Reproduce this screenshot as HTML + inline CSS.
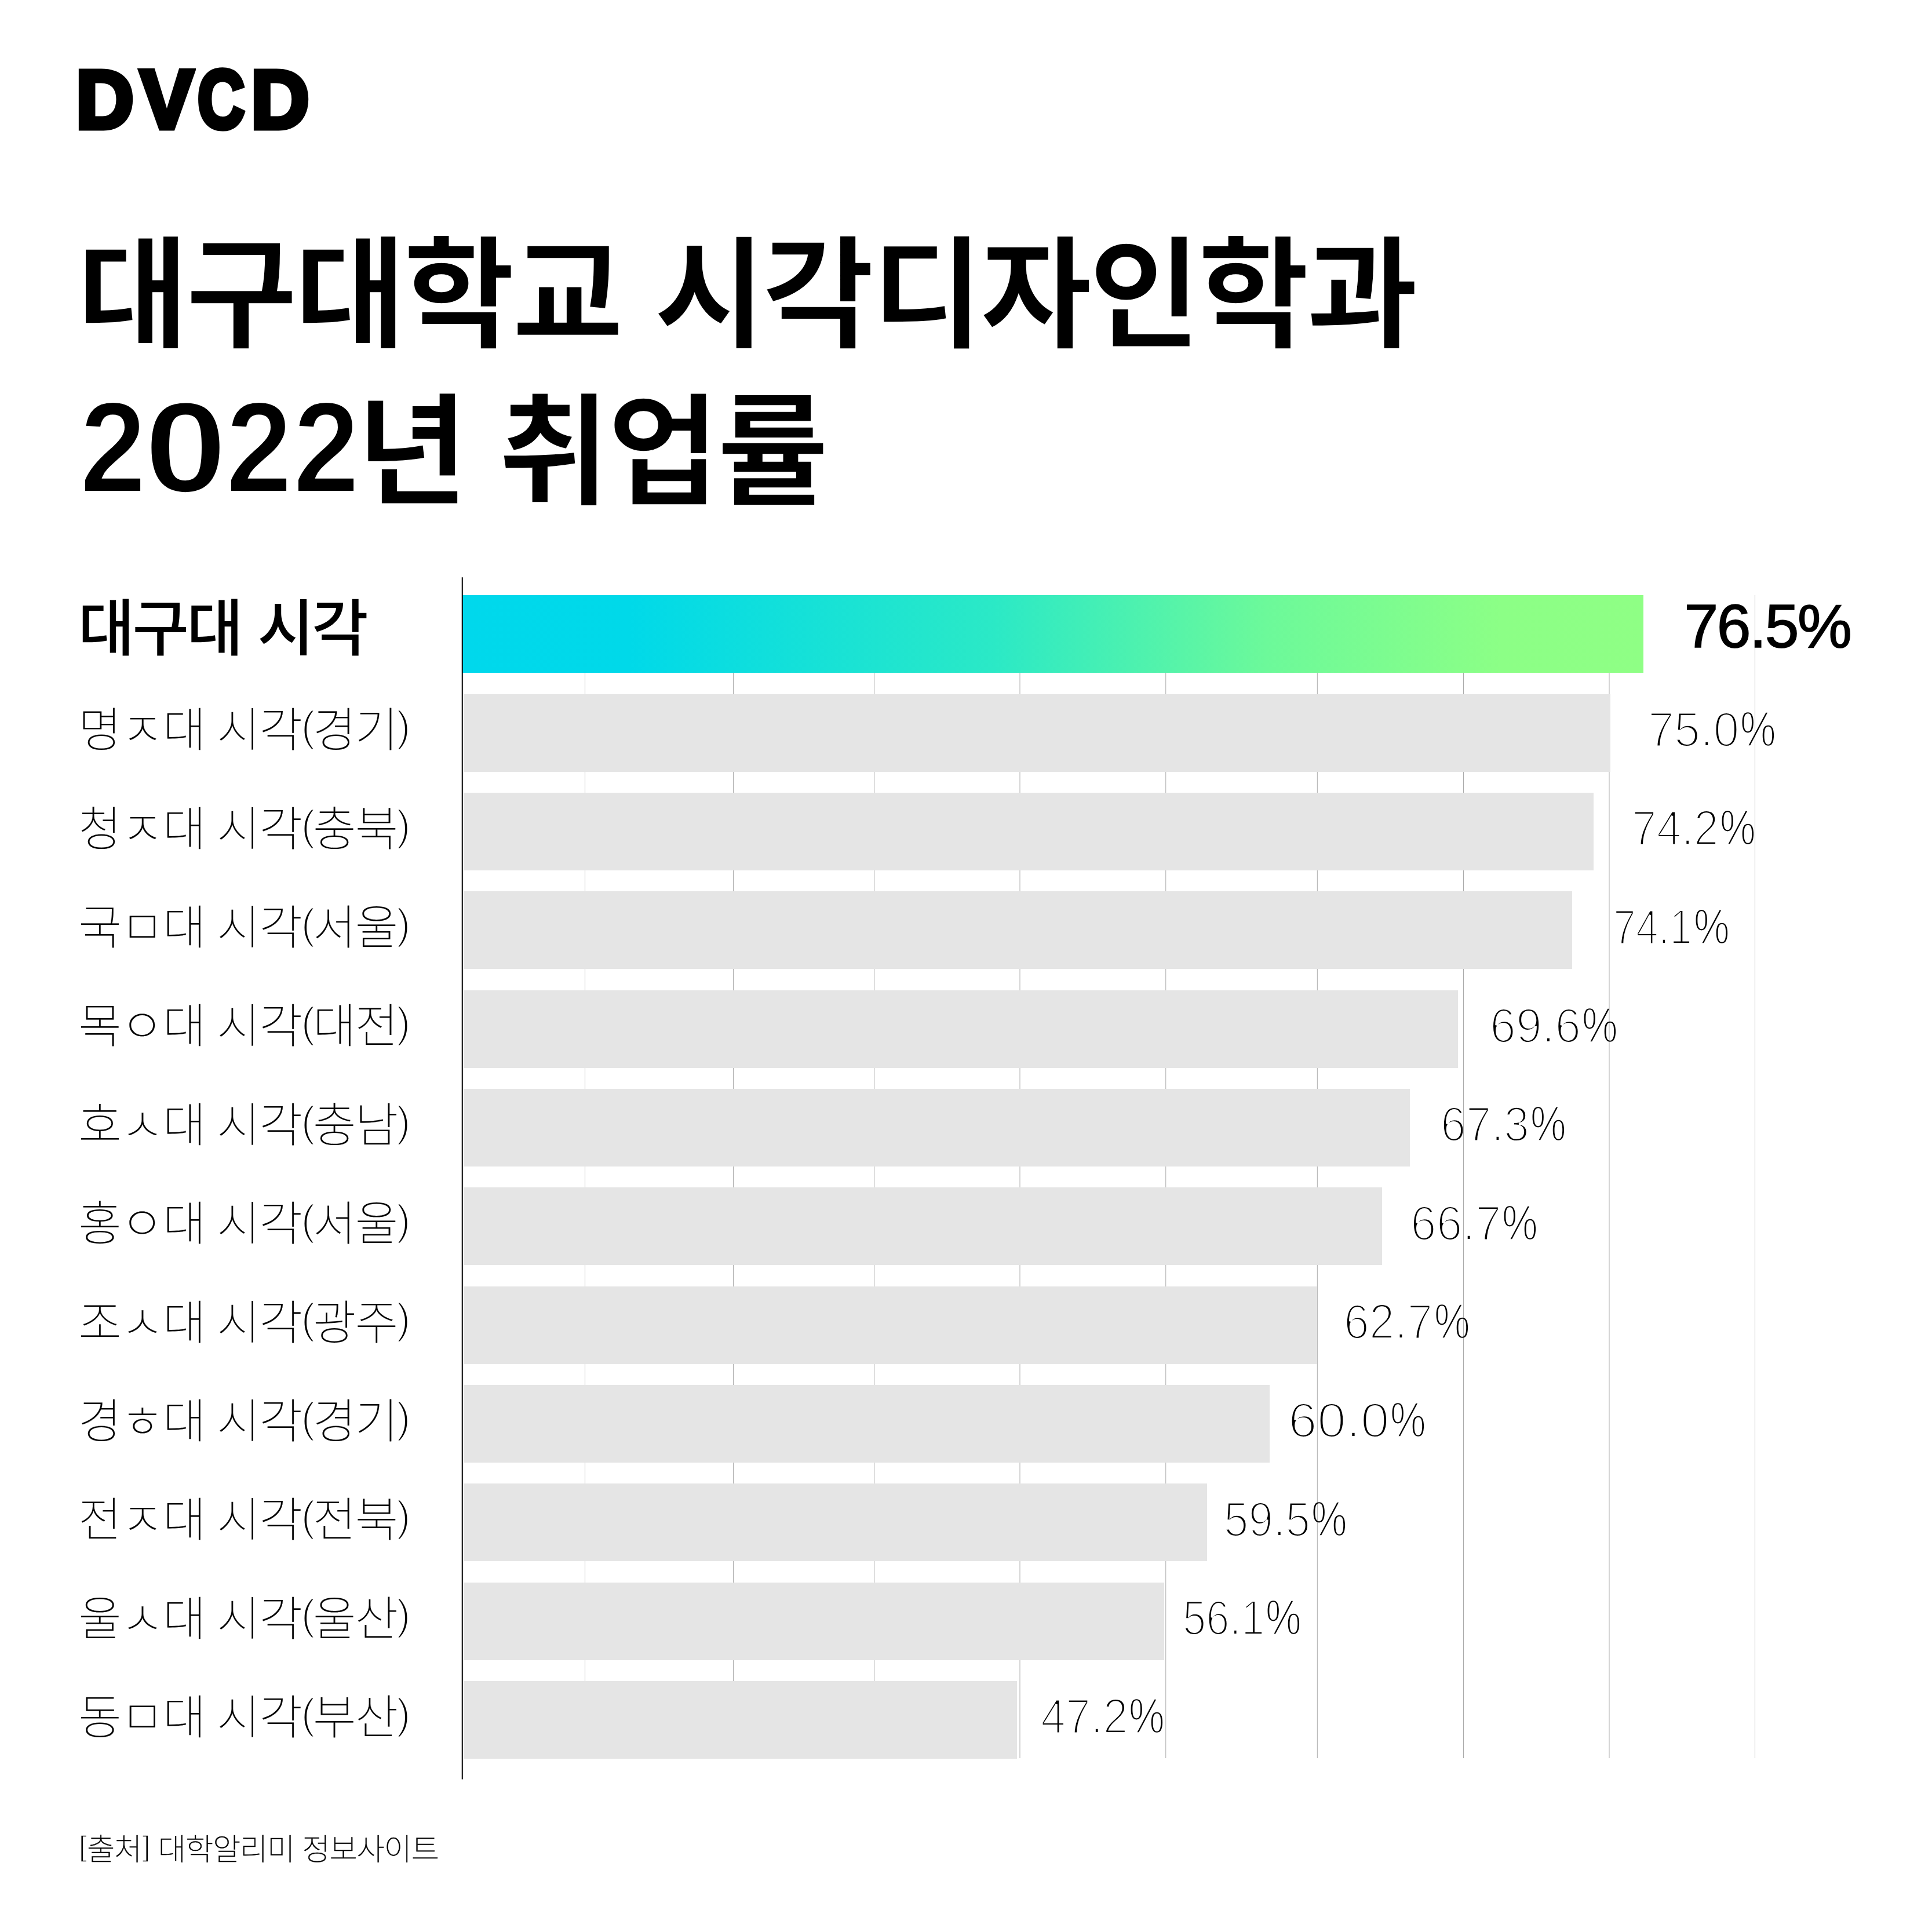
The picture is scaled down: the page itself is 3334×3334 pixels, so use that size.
<!DOCTYPE html>
<html lang="ko">
<head>
<meta charset="utf-8">
<title>대구대학교 시각디자인학과 2022년 취업률</title>
<style>
html,body{margin:0;padding:0;background:#fff;}
body{width:3334px;height:3334px;position:relative;overflow:hidden;color:#000;
  font-family:"Liberation Sans","Noto Sans CJK KR",sans-serif;}
.abs{position:absolute;white-space:nowrap;line-height:1;}
.logo{left:130.8px;top:100.5px;font-size:142px;font-weight:700;-webkit-text-stroke:9px #000;}
.logo span{display:inline-block;transform-origin:0 50%;}
.title{font-size:208.7px;font-weight:700;-webkit-text-stroke:1.6px #fff;}
.t1{left:133.2px;top:407.3px;letter-spacing:-4.3px;word-spacing:3.5px;}
.t2{left:138.24px;top:665.7px;letter-spacing:-2.9px;}
.t2 .d{-webkit-text-stroke:4px #fff;display:inline-block;position:relative;top:-4.7px;font-size:222.6px;letter-spacing:0;transform-origin:0 50%;transform:scaleX(.922);}
.t2 .z{transform:scaleX(1.151);}
.grid{position:absolute;left:0;top:1027px;width:3334px;height:2007px;}
.grid path{stroke:#ababab;stroke-width:1;fill:none;}
.axis{position:absolute;left:790px;top:990px;width:20px;height:2090px;}
.axis path{stroke:#000;stroke-width:2;fill:none;}
.bar{position:absolute;left:800px;height:134.2px;background:#e5e5e5;}
.bar.hl{left:798px;background:linear-gradient(90deg,#00d8ec 0%,#00d9e9 14%,#2be9c6 45%,#6cf99a 68%,#8cff86 88%,#8fff85 100%);}
.lab{left:135.3px;font-size:81px;font-weight:100;letter-spacing:-1.7px;-webkit-text-stroke:.2px #000;}
.lab .p{position:relative;top:-9.2px;margin-left:-1px;font-size:75px;font-weight:400;letter-spacing:-4.2px;-webkit-text-stroke:3.1px #fff;}
.lab .q{margin-left:-2px;}
.lab.b{left:134.8px;font-size:106px;font-weight:500;letter-spacing:-3.75px;word-spacing:2.7px;-webkit-text-stroke:0;}
.val{font-size:86.1px;font-weight:400;-webkit-text-stroke:4px #fff;mix-blend-mode:multiply;}
.val span{position:absolute;top:0;left:0;transform-origin:0 50%;}
.val .pc{transform:scaleX(.805);-webkit-text-stroke-width:2.6px;}
.val.b{left:2906.6px;font-size:105.5px;letter-spacing:-2.5px;-webkit-text-stroke:1.7px #000;mix-blend-mode:normal;}
.src{left:136.1px;top:3166.2px;font-size:52.5px;font-weight:100;letter-spacing:-1.25px;-webkit-text-stroke:.5px #000;}
.src .k{position:relative;top:-7.5px;font-size:50px;font-weight:400;-webkit-text-stroke:1.6px #fff;letter-spacing:0;}
.src .k1{margin-right:0;}
.src .k2{margin-left:1.5px;}
</style>
</head>
<body>
<div class="abs logo"><span style="width:111.2px;transform:scaleX(.972)">D</span><span style="width:99.1px;transform:scaleX(.968)">V</span><span style="width:91.6px;transform:scaleX(.791)">C</span><span style="transform:scaleX(.981)">D</span></div>
<div class="abs title t1">대구대학교 시각디자인학과</div>
<div class="abs title t2"><span class="d" style="width:110.86px">2</span><span class="d z" style="width:140.74px">0</span><span class="d" style="width:116.3px">2</span><span class="d" style="width:109.36px">2</span>년 취업률</div>
<svg class="grid" viewBox="0 0 3334 2007"><path d="M1009.5 0V2007 M1265.5 0V2007 M1508.5 0V2007 M1760 0V2007 M2011.75 0V2007 M2273.3 0V2007 M2525.5 0V2007 M2777 0V2007 M3028.5 0V2007"/></svg>
<div class="bar hl" style="top:1027.2px;width:2038.0px"></div>
<div class="abs lab b" style="top:1032.2px">대구대 시각</div>
<div class="abs val b" style="top:1028.0px">76.5%</div>
<div class="bar" style="top:1197.5px;width:1979.0px"></div>
<div class="abs lab" style="top:1220.3px">명ㅈ대 시각<span class="p">(</span>경기<span class="p q">)</span></div>
<div class="abs val" style="top:1214.8px;left:2850.0px"><span style="left:-6.4px;transform:scaleX(0.939)">75.0</span><span class="pc" style="left:152.7px">%</span></div>
<div class="bar" style="top:1367.9px;width:1949.6px"></div>
<div class="abs lab" style="top:1390.7px">청ㅈ대 시각<span class="p">(</span>충북<span class="p q">)</span></div>
<div class="abs val" style="top:1385.2px;left:2822.0px"><span style="left:-6.1px;transform:scaleX(0.893)">74.2</span><span class="pc" style="left:145.6px">%</span></div>
<div class="bar" style="top:1538.2px;width:1913.0px"></div>
<div class="abs lab" style="top:1561.0px">국ㅁ대 시각<span class="p">(</span>서울<span class="p q">)</span></div>
<div class="abs val" style="top:1555.5px;left:2789.5px"><span style="left:-5.5px;transform:scaleX(0.812)">74.1</span><span class="pc" style="left:133.1px">%</span></div>
<div class="bar" style="top:1708.6px;width:1715.7px"></div>
<div class="abs lab" style="top:1731.4px">목ㅇ대 시각<span class="p">(</span>대전<span class="p q">)</span></div>
<div class="abs val" style="top:1725.9px;left:2577.0px"><span style="left:-6.4px;transform:scaleX(0.938)">69.6</span><span class="pc" style="left:152.6px">%</span></div>
<div class="bar" style="top:1879.0px;width:1632.6px"></div>
<div class="abs lab" style="top:1901.8px">호ㅅ대 시각<span class="p">(</span>충남<span class="p q">)</span></div>
<div class="abs val" style="top:1896.2px;left:2492.6px"><span style="left:-6.2px;transform:scaleX(0.913)">67.3</span><span class="pc" style="left:148.7px">%</span></div>
<div class="bar" style="top:2049.3px;width:1585.0px"></div>
<div class="abs lab" style="top:2072.1px">홍ㅇ대 시각<span class="p">(</span>서울<span class="p q">)</span></div>
<div class="abs val" style="top:2066.6px;left:2439.9px"><span style="left:-6.4px;transform:scaleX(0.935)">66.7</span><span class="pc" style="left:152.2px">%</span></div>
<div class="bar" style="top:2219.7px;width:1472.7px"></div>
<div class="abs lab" style="top:2242.5px">조ㅅ대 시각<span class="p">(</span>광주<span class="p q">)</span></div>
<div class="abs val" style="top:2237.0px;left:2325.5px"><span style="left:-6.2px;transform:scaleX(0.915)">62.7</span><span class="pc" style="left:149.1px">%</span></div>
<div class="bar" style="top:2390.0px;width:1390.6px"></div>
<div class="abs lab" style="top:2412.8px">경ㅎ대 시각<span class="p">(</span>경기<span class="p q">)</span></div>
<div class="abs val" style="top:2407.3px;left:2230.4px"><span style="left:-7.1px;transform:scaleX(1.043)">60.0</span><span class="pc" style="left:168.9px">%</span></div>
<div class="bar" style="top:2560.3px;width:1282.9px"></div>
<div class="abs lab" style="top:2583.2px">전ㅈ대 시각<span class="p">(</span>전북<span class="p q">)</span></div>
<div class="abs val" style="top:2577.7px;left:2117.6px"><span style="left:-6.0px;transform:scaleX(0.889)">59.5</span><span class="pc" style="left:145.0px">%</span></div>
<div class="bar" style="top:2730.7px;width:1209.4px"></div>
<div class="abs lab" style="top:2753.5px">울ㅅ대 시각<span class="p">(</span>울산<span class="p q">)</span></div>
<div class="abs val" style="top:2748.0px;left:2046.7px"><span style="left:-5.7px;transform:scaleX(0.843)">56.1</span><span class="pc" style="left:137.8px">%</span></div>
<div class="bar" style="top:2901.1px;width:955.3px"></div>
<div class="abs lab" style="top:2923.9px">동ㅁ대 시각<span class="p">(</span>부산<span class="p q">)</span></div>
<div class="abs val" style="top:2918.4px;left:1799.3px"><span style="left:-3.5px;transform:scaleX(0.898)">47.2</span><span class="pc" style="left:148.6px">%</span></div>
<svg class="axis" viewBox="0 0 20 2090"><path d="M7.75 6.2V2080.5"/></svg>
<div class="abs src"><span class="k k1">[</span>출처<span class="k k2">]</span> 대학알리미 정보사이트</div>
</body>
</html>
